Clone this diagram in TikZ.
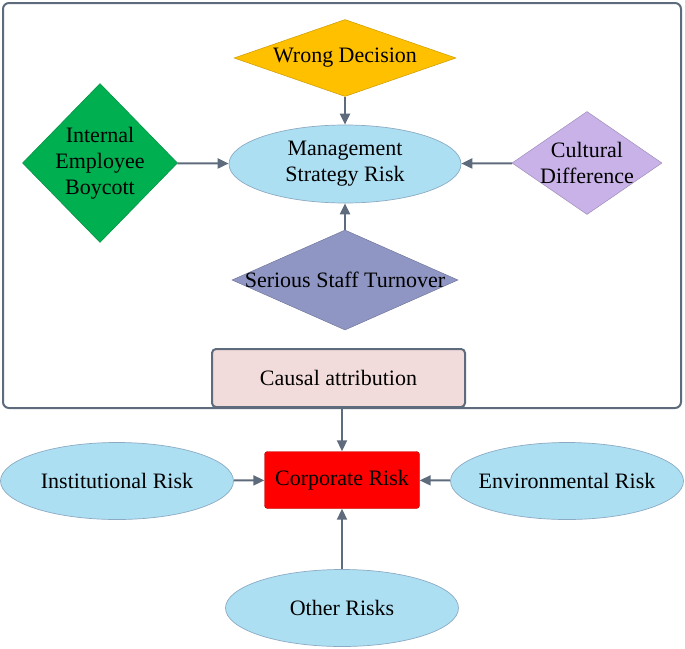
\documentclass[tikz,border=0pt]{standalone}
\usepackage{fontspec}
\setmainfont{LiberationSerif}[Extension=.ttf, UprightFont=*-Regular, BoldFont=*-Bold]
\usetikzlibrary{shapes.geometric,arrows.meta}
\definecolor{slate}{RGB}{94,107,125}
\definecolor{sky}{RGB}{173,223,243}
\definecolor{skyline}{RGB}{140,170,195}
\definecolor{gold}{RGB}{255,192,0}
\definecolor{leaf}{RGB}{0,176,80}
\definecolor{lilac}{RGB}{200,178,232}
\definecolor{dusk}{RGB}{143,150,195}
\definecolor{blush}{RGB}{242,220,219}
\tikzset{
    every label/.style={align=center, inner sep=0pt},
    risk/.style={ellipse, draw=skyline, fill=sky, line width=0.7pt, minimum width=233pt, minimum height=77pt, inner sep=0pt},
    cause/.style={diamond, inner sep=0pt, line width=0.5pt},
    link/.style={draw=slate, line width=2pt, -{Triangle[length=11pt,width=10pt]}},
}
\begin{document}
\begin{tikzpicture}[x=1pt, y=-1pt, font=\fontsize{22}{26}\selectfont]
    \useasboundingbox (0,0) rectangle (685,648);
    \draw[slate, line width=2pt, rounded corners=6pt] (3,3) rectangle (681,408);
    \node[risk, minimum width=232pt, minimum height=78pt, label={center:Management\\Strategy Risk}] (msr) at (345,164) {};
    \node[cause, draw=gold!80!black, fill=gold, minimum width=222pt, minimum height=77pt, label=center:Wrong Decision] (wd) at (345,58) {};
    \node[cause, draw=leaf!80!black, fill=leaf, minimum width=155pt, minimum height=159pt, label={center:Internal\\Employee\\Boycott}] (ieb) at (100,163) {};
    \node[cause, draw=lilac!80!black, fill=lilac, minimum width=150pt, minimum height=103pt, label={center:Cultural\\Difference}] (cd) at (587,163) {};
    \node[cause, draw=dusk!80!black, fill=dusk, minimum width=226pt, minimum height=100pt, label=center:Serious Staff Turnover] (sst) at (345,280) {};
    \node[draw=slate, line width=2pt, rounded corners=4pt, fill=blush, minimum width=253pt, minimum height=58pt] (ca) at (338.5,378) {Causal attribution};
    \node[draw=red!70!black, fill=red, rounded corners=3pt, minimum width=155pt, minimum height=57pt] (cr) at (342,480) {Corporate Risk};
    \node[risk, label=center:Institutional Risk] (ir) at (117,481) {};
    \node[risk, label=center:Environmental Risk] (er) at (567,481) {};
    \node[risk, label=center:Other Risks] (or) at (342,608) {};
    \draw[link] (wd) -- (msr);
    \draw[link] (ieb) -- (msr);
    \draw[link] (cd) -- (msr);
    \draw[link] (sst) -- (msr);
    \draw[link] (cr.north |- ca.south) -- (cr);
    \draw[link] (ir) -- (cr);
    \draw[link] (er) -- (cr);
    \draw[link] (or) -- (cr);
\end{tikzpicture}
\end{document}
